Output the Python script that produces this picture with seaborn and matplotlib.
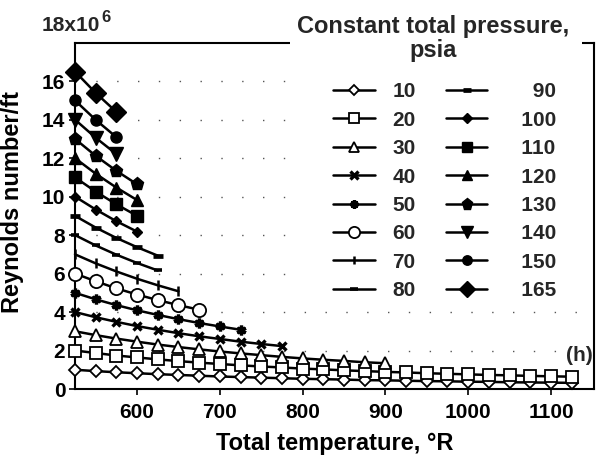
import matplotlib
matplotlib.use("Agg")
import matplotlib.pyplot as plt
from matplotlib.patches import Rectangle
import seaborn as sns
import pandas as pd

# ---------------- data ----------------
temps = [525, 550, 575, 600, 625, 650, 675, 700, 725, 750, 775, 800, 825,
         850, 875, 900, 925, 950, 975, 1000, 1025, 1050, 1075, 1100, 1125]

pressures = [10, 20, 30, 40, 50, 60, 70, 80, 90, 100, 110, 120, 130, 140, 150, 165]

re_10 = [1.00, 0.93, 0.87, 0.82, 0.77, 0.73, 0.69, 0.65, 0.62, 0.59, 0.56, 0.53, 0.51,
         0.49, 0.46, 0.45, 0.43, 0.41, 0.40, 0.38, 0.37, 0.35, 0.34, 0.33, 0.32]
re_20 = [2.00, 1.87, 1.74, 1.64, 1.54, 1.45, 1.37, 1.30, 1.23, 1.17, 1.12, 1.06, 1.02,
         0.97, 0.93, 0.89, 0.86, 0.82, 0.79, 0.76, 0.73, 0.71, 0.68, 0.66, 0.64]
re_30 = [3.00, 2.80, 2.62, 2.46, 2.31, 2.18, 2.06, 1.95, 1.85, 1.76, 1.67, 1.59, 1.52,
         1.46, 1.39, 1.34]
re_40 = [4.00, 3.73, 3.49, 3.27, 3.08, 2.90, 2.74, 2.60, 2.46, 2.34, 2.23]
re_50 = [5.00, 4.66, 4.36, 4.09, 3.85, 3.63, 3.43, 3.25, 3.08]
re_60 = [6.00, 5.60, 5.23, 4.91, 4.62, 4.36, 4.12]
re_70 = [7.00, 6.53, 6.11, 5.73, 5.39, 5.08]
re_80 = [8.00, 7.46, 6.98, 6.55, 6.16]
re_90 = [9.00, 8.39, 7.85, 7.37, 6.93]
re_100 = [10.00, 9.33, 8.72, 8.18]
re_110 = [11.00, 10.26, 9.60, 9.00]
re_120 = [12.00, 11.19, 10.47, 9.82]
re_130 = [13.00, 12.12, 11.34, 10.64]
re_140 = [14.00, 13.06, 12.21]
re_150 = [15.00, 13.99, 13.09]
re_165 = [16.50, 15.39, 14.40]

series = [re_10, re_20, re_30, re_40, re_50, re_60, re_70, re_80, re_90,
          re_100, re_110, re_120, re_130, re_140, re_150, re_165]

legend_labels = ["10", "20", "30", "40", "50", "60", "70", "80",
                 "     90", "   100", "   110", "   120", "   130", "   140", "   150", "   165"]
legend_title = ["Constant total pressure,", "psia"]

yticks = [0, 2, 4, 6, 8, 10, 12, 14, 16]
xticks = [600, 700, 800, 900, 1000, 1100]

# ---------------- styles ----------------
W, K = "white", "black"
styles = {
    10:  dict(marker="D", markersize=6, markerfacecolor=W, markeredgewidth=1.3),
    20:  dict(marker="s", markersize=9, markerfacecolor=W, markeredgewidth=1.3),
    30:  dict(marker="^", markersize=9, markerfacecolor=W, markeredgewidth=1.3),
    40:  dict(marker="x", markersize=6, markerfacecolor=K, markeredgewidth=2.4),
    50:  dict(marker=(6, 2, 0), markersize=7, markerfacecolor=K, markeredgewidth=2.4),
    60:  dict(marker="o", markersize=9.5, markerfacecolor=W, markeredgewidth=1.3),
    70:  dict(marker="|", markersize=7, markerfacecolor=K, markeredgewidth=1.8),
    80:  dict(marker="_", markersize=6, markerfacecolor=K, markeredgewidth=2.6),
    90:  dict(marker="_", markersize=7, markerfacecolor=K, markeredgewidth=3.4),
    100: dict(marker="D", markersize=5.5, markerfacecolor=K, markeredgewidth=1),
    110: dict(marker="s", markersize=8, markerfacecolor=K, markeredgewidth=1),
    120: dict(marker="^", markersize=8.5, markerfacecolor=K, markeredgewidth=1),
    130: dict(marker="p", markersize=9.5, markerfacecolor=K, markeredgewidth=1),
    140: dict(marker="v", markersize=9.5, markerfacecolor=K, markeredgewidth=1),
    150: dict(marker="o", markersize=8, markerfacecolor=K, markeredgewidth=1),
    165: dict(marker="D", markersize=10, markerfacecolor=K, markeredgewidth=1),
}

sns.set_style("ticks")
plt.rcParams["font.family"] = ["Liberation Sans", "DejaVu Sans"]
plt.rcParams["font.weight"] = "bold"

fig = plt.figure(figsize=(5.98, 4.61), dpi=100)
ax = fig.add_axes([75 / 598, 1 - 389 / 461, (594 - 75) / 598, (389 - 42.7) / 461])

for p, vals, lab in zip(pressures, series, legend_labels):
    df = pd.DataFrame({"T": temps[:len(vals)], "Re": vals})
    sns.lineplot(data=df, x="T", y="Re", ax=ax, color=K, linewidth=1.8,
                 markeredgecolor=K, label=lab, estimator=None, sort=False,
                 clip_on=False, zorder=3, legend=True, **styles[p])

ax.set_xlim(525, 1152)
ax.set_ylim(0, 18)
ax.set_xticks(xticks)
ax.set_yticks(yticks)
ax.set_xticklabels([str(t) for t in xticks], fontweight="bold")
ax.set_yticklabels([str(t) for t in yticks], fontweight="bold")
ax.tick_params(axis="both", labelsize=15, colors=K, direction="out", length=4, width=1.2, pad=3)
ax.tick_params(axis="x", pad=6)

for s in ax.spines.values():
    s.set_color(K)
    s.set_linewidth(1.5)

ax.yaxis.grid(True, linestyle=(0, (1, 14)), color="#555555", linewidth=1.0)
ax.xaxis.grid(False)
ax.set_axisbelow(True)

ax.set_xlabel("Total temperature, °R", fontsize=17, fontweight="bold", labelpad=7, color=K)
ax.set_ylabel("Reynolds number/ft", fontsize=17, fontweight="bold", color=K)
ax.yaxis.set_label_coords(-0.098, (389 - 202) / (389 - 42.7))

fig.text(100 / 598, 1 - 31 / 461, "18x10", fontsize=15, fontweight="bold",
         ha="right", va="baseline")
fig.text(101 / 598, 1 - 22 / 461, "6", fontsize=12, fontweight="bold",
         ha="left", va="baseline")
fig.text(593 / 598, 1 - 361 / 461, "(h)", fontsize=15, fontweight="bold",
         ha="right", va="baseline")

# white box that hides the top spine and grid behind the legend
fig.add_artist(Rectangle((290 / 598, 1 - 302 / 461), (582 - 290) / 598, 302 / 461,
                         transform=fig.transFigure, facecolor="white",
                         edgecolor="none", zorder=1))

# legend title (two centred lines)
fig.text(433 / 598, 1 - 26 / 461, legend_title[0], fontsize=17, fontweight="bold",
         ha="center", va="center", zorder=6)
fig.text(433 / 598, 1 - 51 / 461, legend_title[1], fontsize=17, fontweight="bold",
         ha="center", va="center", zorder=6)

handles, labels = ax.get_legend_handles_labels()
ax.get_legend().remove()
leg = fig.legend(handles, labels, ncol=2, loc="upper left",
                 bbox_to_anchor=(323 / 598, 1 - 72 / 461), bbox_transform=fig.transFigure,
                 prop={"size": 15, "weight": "bold"},
                 frameon=False, handlelength=2.0, handletextpad=0.82,
                 columnspacing=1.45, labelspacing=0.45, borderpad=0.0,
                 markerscale=0.85)
leg.set_zorder(5)

fig.savefig("out.png", dpi=100)
